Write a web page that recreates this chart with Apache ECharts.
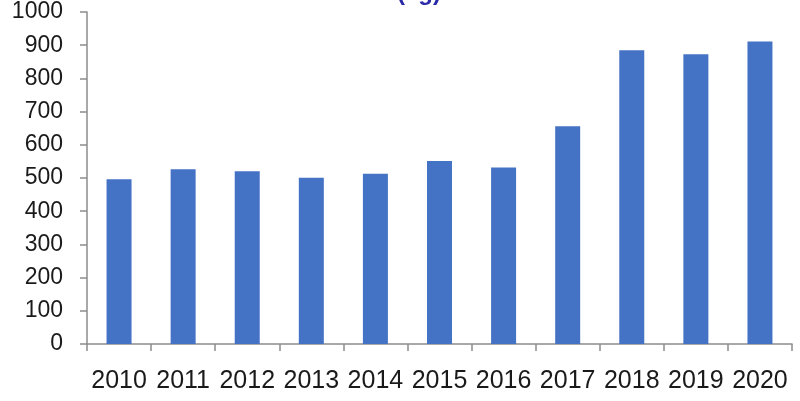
<!DOCTYPE html>
<html>
<head>
<meta charset="utf-8">
<script src="https://cdn.jsdelivr.net/npm/echarts@6/dist/echarts.min.js"></script>
<style>html,body{margin:0;padding:0;background:#fff}#c{width:800px;height:401px}</style>
</head>
<body>
<div id="c"></div>
<script>
const titleText = '(kg)';
const categories = ['2010','2011','2012','2013','2014','2015','2016','2017','2018','2019','2020'];
const values = [496, 526, 520, 501, 513, 551, 532, 656, 885, 873, 911];
const yTicks = {min: 0, max: 1000, interval: 100};

const chart = echarts.init(document.getElementById('c'), null, {renderer: 'canvas'});
chart.setOption({
  animation: false,
  backgroundColor: '#ffffff',
  title: {
    text: titleText,
    left: 392,
    top: -24,
    textStyle: {color: '#2a2aa8', fontSize: 24, fontWeight: 'bold', fontFamily: 'Liberation Sans'}
  },
  grid: {left: 87, right: 8, top: 12, bottom: 57, containLabel: false},
  xAxis: {
    type: 'category',
    data: categories,
    axisLine: {show: true, lineStyle: {color: '#8c8c8c', width: 1.5}},
    axisTick: {show: true, inside: false, length: 7, alignWithLabel: false, lineStyle: {color: '#8c8c8c', width: 1.5}},
    axisLabel: {color: '#1a1a1a', fontSize: 25, fontFamily: 'Liberation Sans', margin: 25, interval: 0}
  },
  yAxis: {
    type: 'value',
    min: yTicks.min,
    max: yTicks.max,
    interval: yTicks.interval,
    splitLine: {show: false},
    axisLine: {show: true, lineStyle: {color: '#8c8c8c', width: 1.5}},
    axisTick: {show: true, inside: false, length: 7, lineStyle: {color: '#8c8c8c', width: 1.5}},
    axisLabel: {color: '#1a1a1a', fontSize: 23, fontFamily: 'Liberation Sans', margin: 24, formatter: v => String(v)}
  },
  series: [{
    type: 'bar',
    data: values,
    barWidth: 25,
    itemStyle: {color: '#4472c4'}
  }]
});
</script>
</body>
</html>
